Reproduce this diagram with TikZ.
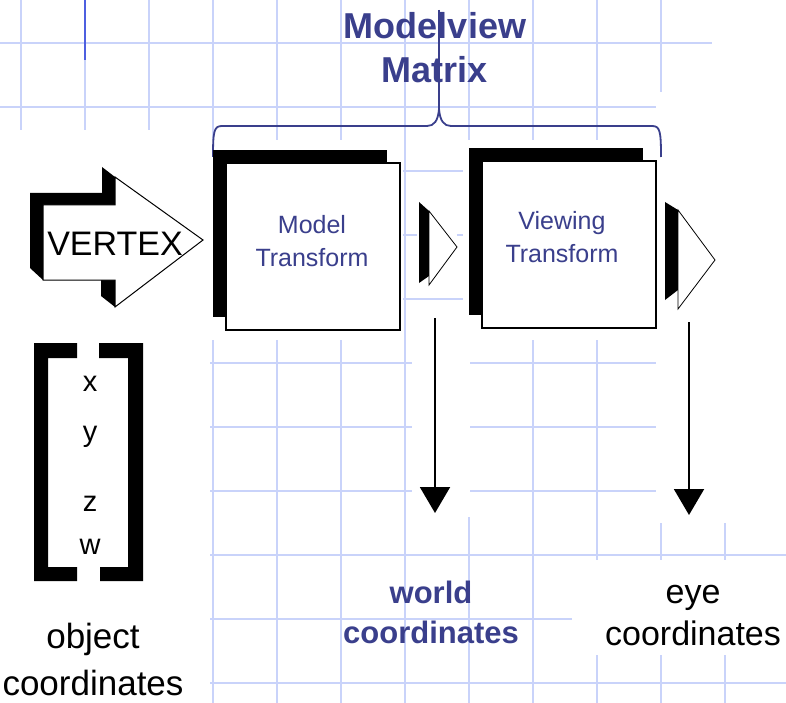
\documentclass[tikz,border=0pt]{standalone}
\usepackage{fontspec}
\setmainfont{Liberation Sans}
\usepackage{tikz}
\usetikzlibrary{arrows.meta,shadows}
\definecolor{rejilla}{HTML}{C9D3FA}
\definecolor{azul}{HTML}{3A3F8C}
\definecolor{azulfuerte}{HTML}{4D5FE0}

\begin{document}
\begin{tikzpicture}[x=1pt,y=-1pt,
        gridline/.style={rejilla, line width=2pt},
        patch/.style={fill=white, draw=none},
        tbox/.style={draw, fill=white, line width=1.6pt, inner sep=0pt,
            minimum width=174pt, minimum height=167pt,
            general shadow={fill=black, shadow xshift=-13pt, shadow yshift=13pt}},
        boxtext/.style={text=azul, align=center, font=\fontsize{25}{33}\selectfont},
        titletext/.style={text=azul, align=center, font=\bfseries\fontsize{36}{44}\selectfont},
        worldtext/.style={text=azul, align=center, font=\bfseries\fontsize{31}{40}\selectfont},
        plaintext/.style={align=center, font=\fontsize{34}{42}\selectfont},
        comp/.style={font=\fontsize{29}{29}\selectfont, inner sep=0pt},
        coordarrow/.style={line width=2pt, -{Triangle[width=30pt,length=26pt]}},
        llave/.style={azul, line width=1.8pt}]
        \fill[white] (0,0) rectangle (786,703);
        \useasboundingbox (0,0) rectangle (786,703);

        % rejilla de fondo
        \foreach \gx in {21,85,...,725}
            \draw[gridline] (\gx,0) -- (\gx,703);
        \foreach \gy in {43,107,...,683}
            \draw[gridline] (0,\gy) -- (786,\gy);
        \draw[azulfuerte, line width=2pt] (85,0) -- (85,60);
        \fill[patch] (0,130) rectangle (210,703);
        \fill[patch] (205,140) rectangle (403,340);
        \fill[patch] (463,140) rectangle (656,340);
        \fill[patch] (656,92) rectangle (786,523);
        \fill[patch] (712,0) rectangle (786,92);
        \fill[patch] (412,305) rectangle (470,517);
        \fill[patch] (572,560) rectangle (786,655);
        \fill[patch] (417,200) rectangle (457,288);

        % titulo y llave
        \node[titletext] (titulo) at (435,48) {Modelview\\Matrix};
        \draw[llave] (213,157) .. controls (213,131) and (214,126) .. (222,126) -- (427,126)
            .. controls (434,126) and (438,121) .. (439,109)
            .. controls (440,121) and (444,126) .. (451,126) -- (652,126)
            .. controls (660,126) and (661,131) .. (661,157);
        \draw[azul, line width=1.2pt] (439,10) -- (439,110);

        % flecha VERTEX
        \fill (30,193) -- (102,193) -- (102,167) -- (115,177) -- (115,205) -- (43,205) -- (43,280) -- (30,268) -- cycle;
        \fill (101,280) -- (115,280) -- (115,307) -- (101,296) -- cycle;
        \draw[fill=white, line width=1pt] (43,205) -- (115,205) -- (115,177) -- (203,240) -- (115,307) -- (115,280) -- (43,280) -- cycle;
        \node[font=\fontsize{34}{34}\selectfont, inner sep=0pt] (vertex) at (115,243.5) {VERTEX};

        % vector x y z w
        \fill (34,343) -- (77,343) -- (77,358) -- (48,358) -- (48,567) -- (77,567) -- (77,581) -- (34,581) -- cycle;
        \fill (99,343) -- (143,343) -- (143,581) -- (100,581) -- (100,567) -- (128,567) -- (128,358) -- (99,358) -- cycle;
        \node[comp] (cx) at (90,384) {x};
        \node[comp] (cy) at (90,437) {y};
        \node[comp] (cz) at (90,504) {z};
        \node[comp] (cw) at (90,547) {w};
        \node[plaintext, font=\fontsize{35}{47}\selectfont] (objeto) at (93,659) {object\\coordinates};

        % transformaciones
        \node[tbox] (model) at (313,246.5) {};
        \node[tbox] (viewing) at (569,244.5) {};
        \node[boxtext] (modeltxt) at (312,241.5) {Model\\Transform};
        \node[boxtext] (viewtxt) at (562,237.5) {Viewing\\Transform};

        % flechas pequenas
        \fill (419,202) -- (429,211) -- (429,276) -- (419,283) -- cycle;
        \draw[fill=white, line width=0.8pt] (429,211) -- (457,247) -- (429,285) -- cycle;
        \fill (665,202) -- (678,210) -- (678,290) -- (665,300) -- cycle;
        \draw[fill=white, line width=0.8pt] (678,210) -- (715,260) -- (678,309) -- cycle;

        % salidas
        \coordinate (wtop) at (435,318);
        \coordinate (wend) at (435,513);
        \coordinate (etop) at (689,322);
        \coordinate (eend) at (689,515);
        \draw[coordarrow] (wtop) -- (wend);  % hacia world
        \draw[coordarrow] (etop) -- (eend);  % hacia eye
        \node[worldtext] (world) at (431,612) {world\\coordinates};
        \node[plaintext] (eye) at (693,616) {eye\\coordinates};
    \end{tikzpicture}
\end{document}
